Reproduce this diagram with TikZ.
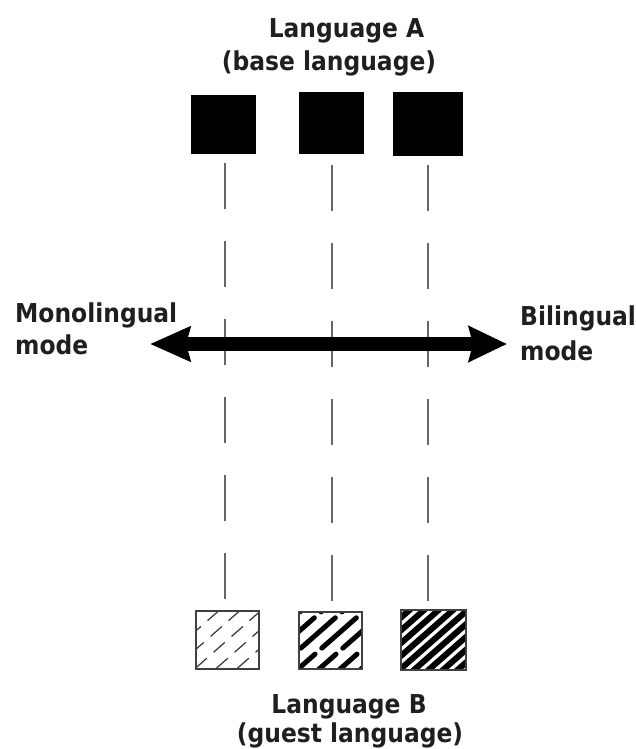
\documentclass[tikz,border=0pt]{standalone}
\usepackage{fontspec}
\newfontfamily\lblfont[FakeStretch=0.9]{DejaVu Sans}
\usetikzlibrary{arrows.meta,calc}
\begin{document}
\begin{tikzpicture}[x=1pt,y=-1pt,
  lbl/.style={font=\lblfont\bfseries\fontsize{26}{32}\selectfont, inner sep=0pt, text=black!88},
  topsq/.style={fill=black, draw=black, inner sep=0pt},
  botsq/.style={draw=black!75, line width=1.5pt, inner sep=0pt},
  link/.style={draw=black!60, line width=1.8pt, dash pattern=on 46pt off 32pt},
  hatchA/.style={draw=black!80, line width=1.2pt, dash pattern=on 15pt off 9pt},
  hatchB/.style={draw=black, line width=5pt, line cap=round, dash pattern=on 46pt off 9pt},
  hatchC/.style={draw=black, line width=6pt, line cap=round},
  modearrow/.style={line width=14pt, {Stealth[length=40pt,width=34pt,inset=4pt]}-{Stealth[length=38pt,width=35pt,inset=4pt]}}
]
\useasboundingbox (0,0) rectangle (636,749);

% labels
\node[lbl, anchor=base] (la1) at (346.5,38) {Language A};
\node[lbl, anchor=base] (la2) at (329,71) {(base language)};
\node[lbl, anchor=base west] (mo1) at (15,322) {Monolingual};
\node[lbl, anchor=base west] (mo2) at (15,354) {mode};
\node[lbl, anchor=base west] (bi1) at (520,325) {Bilingual};
\node[lbl, anchor=base west] (bi2) at (520,360) {mode};
\node[lbl, anchor=base] (lb1) at (349,713) {Language B};
\node[lbl, anchor=base] (lb2) at (350,742) {(guest language)};

% top squares
\node[topsq, minimum width=64pt, minimum height=58pt] (a1) at (223,124) {};
\node[topsq, minimum width=64pt, minimum height=61pt] (a2) at (331,122.5) {};
\node[topsq, minimum width=69pt, minimum height=63pt] (a3) at (427.5,123.5) {};

% bottom squares (frames)
\node[minimum width=63pt, minimum height=58pt, inner sep=0pt] (b1) at (227.5,640) {};
\node[minimum width=63pt, minimum height=57pt, inner sep=0pt] (b2) at (330.5,640.5) {};
\node[minimum width=65pt, minimum height=60pt, inner sep=0pt] (b3) at (433.5,640) {};

% hatching
\begin{scope}
  \clip (b1.south west) rectangle (b1.north east);
  \foreach \k in {-4,...,4}
    \draw[hatchA] ($(b1.center)+(\k*21-50,44)$) -- ++(100,-88);
\end{scope}
\begin{scope}
  \clip (b2.south west) rectangle (b2.north east);
  \foreach \k in {-4,...,4}
    \draw[hatchB] ($(b2.center)+(\k*21-50,44)$) -- ++(100,-88);
\end{scope}
\begin{scope}
  \clip (b3.south west) rectangle (b3.north east);
  \foreach \k in {-7,...,7}
    \draw[hatchC] ($(b3.center)+(\k*14.5-50,44)$) -- ++(100,-88);
\end{scope}
\draw[botsq] (b1.south west) rectangle (b1.north east);
\draw[botsq] (b2.south west) rectangle (b2.north east);
\draw[botsq] (b3.south west) rectangle (b3.north east);

% dashed links
\coordinate (t1) at (225,163); \coordinate (u1) at (225,603);
\coordinate (t2) at (332,165); \coordinate (u2) at (332,603);
\coordinate (t3) at (428,165); \coordinate (u3) at (428,603);
\draw[link] (t1) -- (u1);
\draw[link] (t2) -- (u2);
\draw[link] (t3) -- (u3);

% mode arrow
\coordinate (arrL) at (150,344);
\coordinate (arrR) at (507,344);
\draw[modearrow] (arrL) -- (arrR);
\end{tikzpicture}
\end{document}
